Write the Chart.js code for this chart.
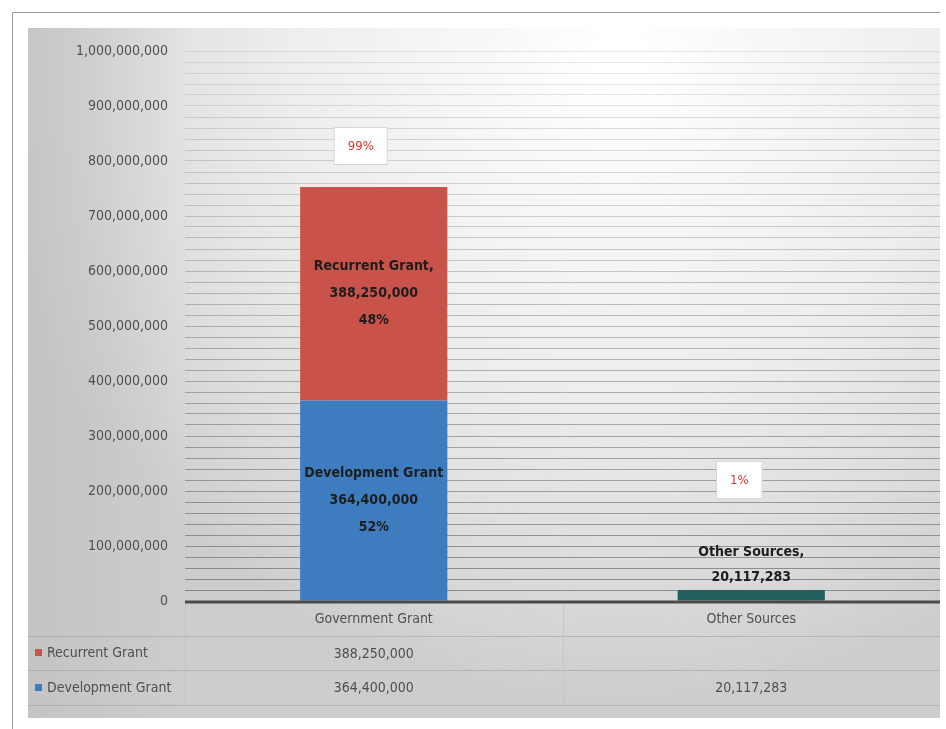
<!DOCTYPE html>
<html>
<head>
<meta charset="utf-8">
<script src="https://cdn.jsdelivr.net/npm/chart.js@4.4.1/dist/chart.umd.min.js"></script>
<style>
  html, body { margin: 0; padding: 0; background: #fff; }
  #wrap { width: 946px; height: 729px; position: relative; }
</style>
</head>
<body>
<div id="wrap"><canvas id="fundChart" width="946" height="729"></canvas></div>
<script>
// funding sources, split by grant type
const categories = ['Government Grant', 'Other Sources'];
const seriesNames = ['Recurrent Grant', 'Development Grant'];
const recurrentGrant = [388250000, null];
const developmentGrant = [364400000, 20117283];
const recurrentShare = ['48%', ''];
const developmentShare = ['52%', ''];
const totalShare = ['99%', '1%'];
const yMax = 1000000000;
const yLabelStep = 100000000;
const yGridStep = 20000000;

const FONT = "'Liberation Sans Narrow', 'DejaVu Sans Condensed', sans-serif";
const RED = '#c9534b';
const BLUE = '#3d7dbf';
const TEAL = '#22605f';

const fmt = v => v.toLocaleString('en-US');

const ctx = document.getElementById('fundChart').getContext('2d');

// page, panel and shading behind the plot
const backdrop = {
    id: 'backdrop',
    beforeDraw(chart) {
        const c = chart.ctx;
        c.save();
        c.fillStyle = '#fff';
        c.fillRect(0, 0, chart.width, chart.height);
        c.strokeStyle = '#9a9a9a';
        c.lineWidth = 1;
        c.beginPath();
        c.moveTo(12.5, 729); c.lineTo(12.5, 12.5); c.lineTo(940, 12.5);
        c.stroke();

        c.fillStyle = '#cdcdcd';
        c.fillRect(28, 28, 912, 690);
        const g = c.createRadialGradient(620, 60, 20, 620, 60, 640);
        g.addColorStop(0, 'rgba(255,255,255,1)');
        g.addColorStop(0.5, 'rgba(248,248,248,0.75)');
        g.addColorStop(1, 'rgba(255,255,255,0)');
        c.fillStyle = g;
        c.fillRect(28, 28, 912, 690);
        const side = c.createLinearGradient(28, 0, 190, 0);
        side.addColorStop(0, 'rgba(190,190,190,0.6)');
        side.addColorStop(1, 'rgba(190,190,190,0)');
        c.fillStyle = side;
        c.fillRect(28, 28, 162, 690);
        c.restore();
    }
};

// value labels, share boxes, baseline and the data table
const overlay = {
    id: 'overlay',
    afterDatasetsDraw(chart) {
        const c = chart.ctx;
        const area = chart.chartArea;
        const x = chart.scales.x;
        const y = chart.scales.y;
        const devMeta = chart.getDatasetMeta(0);
        const recMeta = chart.getDatasetMeta(1);
        c.save();

        // axis baseline
        c.strokeStyle = '#4a4a4a';
        c.lineWidth = 3;
        c.beginPath();
        c.moveTo(area.left, y.getPixelForValue(0) + 1);
        c.lineTo(area.right, y.getPixelForValue(0) + 1);
        c.stroke();

        c.textAlign = 'center';
        c.textBaseline = 'middle';
        c.font = 'bold 14px ' + FONT;
        c.fillStyle = '#1d1d1d';
        const lh = 27;

        // labels inside the stacked segments
        categories.forEach((cat, i) => {
            const cx = x.getPixelForValue(i);
            if (recurrentGrant[i] != null) {
                const el = recMeta.data[i];
                const mid = (el.y + el.base) / 2;
                const lines = [seriesNames[0] + ',', fmt(recurrentGrant[i]), recurrentShare[i]];
                lines.forEach((t, k) => c.fillText(t, cx, mid + (k - 1) * lh));
            }
            const el = devMeta.data[i];
            if (developmentShare[i]) {
                const mid = (el.y + el.base) / 2;
                const lines = [seriesNames[1], fmt(developmentGrant[i]), developmentShare[i]];
                lines.forEach((t, k) => c.fillText(t, cx, mid + (k - 1) * lh));
            } else {
                c.fillText(cat + ',', cx, el.y - 38);
                c.fillText(fmt(developmentGrant[i]), cx, el.y - 13);
            }
        });

        // share-of-total boxes
        const boxOffset = [41, 110];
        categories.forEach((cat, i) => {
            const top = recurrentGrant[i] != null ? recMeta.data[i].y : devMeta.data[i].y;
            const cx = x.getPixelForValue(i) - (i === 0 ? 13 : 12);
            const cy = top - boxOffset[i];
            c.font = '13px ' + FONT;
            const w = c.measureText(totalShare[i]).width + 28;
            c.fillStyle = '#fff';
            c.fillRect(cx - w / 2, cy - 19, w, 38);
            c.strokeStyle = '#d6d6d6';
            c.lineWidth = 1;
            c.strokeRect(cx - w / 2 + 0.5, cy - 18.5, w - 1, 37);
            c.fillStyle = '#e0322c';
            c.fillText(totalShare[i], cx, cy + 1);
        });

        // data table under the axis
        const rowTop = [604, 636, 670, 705];
        c.strokeStyle = 'rgba(140,140,140,0.4)';
        c.lineWidth = 1;
        rowTop.slice(1).forEach(ry => {
            c.beginPath();
            c.moveTo(28, ry + 0.5);
            c.lineTo(940, ry + 0.5);
            c.stroke();
        });
        c.strokeStyle = 'rgba(210,170,170,0.45)';
        [area.left, (x.getPixelForValue(0) + x.getPixelForValue(1)) / 2].forEach(vx => {
            c.beginPath();
            c.moveTo(Math.round(vx) + 0.5, rowTop[0]);
            c.lineTo(Math.round(vx) + 0.5, rowTop[3]);
            c.stroke();
        });

        c.font = '14px ' + FONT;
        c.fillStyle = '#4f4f4f';
        categories.forEach((cat, i) => {
            const cx = x.getPixelForValue(i);
            c.fillText(cat, cx, 619);
            if (recurrentGrant[i] != null) c.fillText(fmt(recurrentGrant[i]), cx, 654);
            if (developmentGrant[i] != null) c.fillText(fmt(developmentGrant[i]), cx, 688);
        });

        c.textAlign = 'left';
        [[RED, 653], [BLUE, 688]].forEach(([col, ry], k) => {
            c.fillStyle = col;
            c.fillRect(35, ry - 4, 7, 7);
            c.fillStyle = '#4f4f4f';
            c.fillText(seriesNames[k], 47, ry);
        });
        c.restore();
    }
};

new Chart(ctx, {
    type: 'bar',
    data: {
        labels: categories,
        datasets: [
            {
                label: seriesNames[1],
                data: developmentGrant,
                backgroundColor: [BLUE, TEAL],
                borderWidth: 0
            },
            {
                label: seriesNames[0],
                data: recurrentGrant,
                backgroundColor: RED,
                borderWidth: 0
            }
        ]
    },
    options: {
        responsive: false,
        animation: false,
        layout: { padding: { left: 28, right: 6, top: 51, bottom: 128 } },
        datasets: { bar: { categoryPercentage: 1, barPercentage: 0.39 } },
        plugins: {
            legend: { display: false },
            tooltip: { enabled: false }
        },
        scales: {
            x: {
                stacked: true,
                display: false
            },
            y: {
                stacked: true,
                min: 0,
                max: yMax,
                border: { display: false },
                afterFit(scale) { scale.width = 157; },
                grid: {
                    drawTicks: false,
                    lineWidth: 1,
                    color(c) {
                        if (c.tick && c.tick.value === 0) return 'rgba(0,0,0,0)';
                        const frac = c.tick ? c.tick.value / yMax : 0;
                        const a = 0.6 - 0.48 * frac;
                        return 'rgba(85,85,85,' + a.toFixed(2) + ')';
                    }
                },
                ticks: {
                    stepSize: yGridStep,
                    padding: 17,
                    autoSkip: false,
                    color: '#505050',
                    font: { family: FONT, size: 14 },
                    callback: v => (v % yLabelStep === 0 ? fmt(v) : '')
                }
            }
        }
    },
    plugins: [backdrop, overlay]
});
</script>
</body>
</html>
